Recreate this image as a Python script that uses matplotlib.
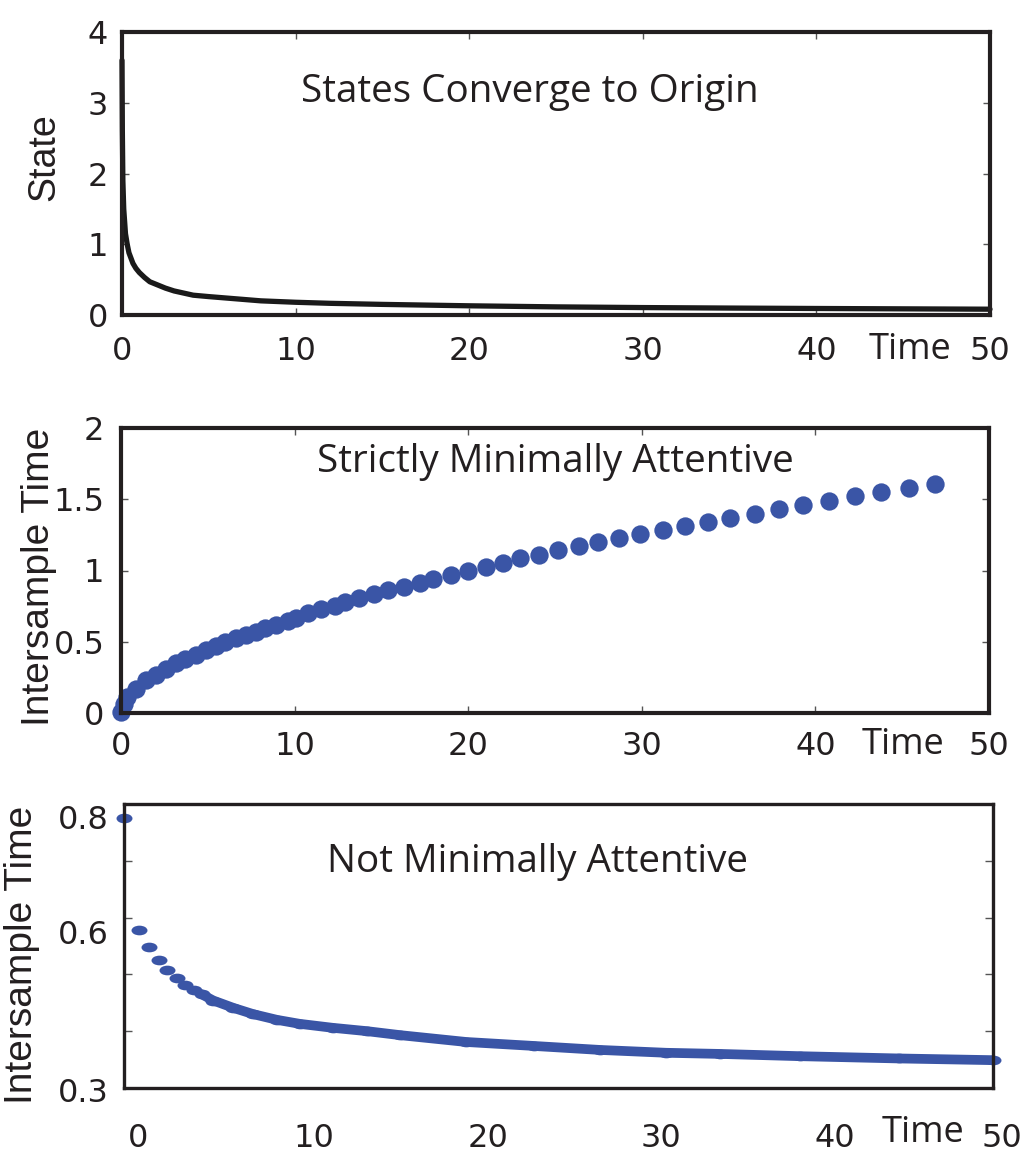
import numpy as np
import matplotlib
matplotlib.use("Agg")
import matplotlib.pyplot as plt
from matplotlib.path import Path
import matplotlib.transforms as mtransforms

# --- data ---
# top panel: state trajectory
t_state = [0.0, 0.02, 0.05, 0.1, 0.2, 0.3, 0.4, 0.63, 0.8, 1.0, 1.3, 1.6, 2.0, 2.5, 3.0,
           4.1, 5.0, 6.0, 7.0, 8.0, 10.0, 12.0, 15.0, 20.0, 25.0, 30.0, 35.0, 40.0,
           45.0, 50.0]
x_state = [3.6, 2.6, 1.9, 1.5, 1.15, 1.0, 0.88, 0.73, 0.66, 0.6, 0.53, 0.47, 0.43, 0.38,
           0.34, 0.28, 0.26, 0.24, 0.22, 0.2, 0.18, 0.165, 0.15, 0.13, 0.115, 0.105,
           0.098, 0.092, 0.087, 0.082]

# middle panel: strictly minimally attentive sampling
t_strict = [0.0, 0.15, 0.37, 0.85, 1.42, 2.0, 2.57, 3.15, 3.7, 4.3, 4.9, 5.45, 6.0, 6.6,
            7.2, 7.76, 8.3, 8.9, 9.6, 10.1, 10.8, 11.5, 12.3, 12.9, 13.7, 14.6, 15.4,
            16.3, 17.2, 18.0, 19.0, 20.0, 21.0, 22.0, 23.0, 24.1, 25.2, 26.4, 27.5,
            28.7, 29.9, 31.2, 32.5, 33.8, 35.1, 36.5, 37.9, 39.3, 40.8, 42.3, 43.8,
            45.4, 46.9]
tau_strict = [0.01, 0.06, 0.11, 0.17, 0.23, 0.27, 0.31, 0.35, 0.38, 0.41, 0.44, 0.47,
              0.50, 0.524, 0.547, 0.57, 0.594, 0.62, 0.645, 0.67, 0.70, 0.73, 0.753,
              0.78, 0.81, 0.835, 0.86, 0.886, 0.915, 0.94, 0.968, 1.00, 1.027, 1.055,
              1.085, 1.109, 1.144, 1.172, 1.198, 1.226, 1.254, 1.284, 1.312, 1.342,
              1.366, 1.40, 1.43, 1.46, 1.49, 1.52, 1.55, 1.58, 1.607]

# bottom panel: not minimally attentive sampling
t_not = [0.0, 0.86, 1.46, 2.0, 2.5, 3.03, 3.5, 4.0, 4.47, 5.14, 6.3, 7.44, 8.8, 10.1,
         12.0, 14.0, 15.9, 19.7, 23.6, 27.4, 31.2, 34.3, 38.9, 44.6, 50.0]
tau_not = [0.775, 0.579, 0.548, 0.525, 0.507, 0.494, 0.482, 0.473, 0.465, 0.454, 0.441,
           0.43, 0.42, 0.413, 0.406, 0.40, 0.393, 0.381, 0.374, 0.367, 0.362, 0.360,
           0.356, 0.352, 0.349]

xticks = [0, 10, 20, 30, 40, 50]
titles = ["States Converge to Origin", "Strictly Minimally Attentive",
          "Not Minimally Attentive"]

ink = "#231f20"
blue = "#3a55a6"
plt.rcParams["font.family"] = "DejaVu Sans"
label_font = "Liberation Sans"
text_font = "Open Sans"

W, H = 1023, 1155
fig = plt.figure(figsize=(W / 100, H / 100), dpi=100)


def px_axes(left, top, right, bottom):
    return fig.add_axes([left / W, 1 - bottom / H, (right - left) / W, (bottom - top) / H])


def style(ax, lw, ypad, xpad):
    for s in ax.spines.values():
        s.set_linewidth(lw)
        s.set_color(ink)
    ax.tick_params(direction="in", length=5, width=1, color="#555555",
                   top=True, right=True, labelsize=23, labelcolor=ink)
    ax.tick_params(axis="y", pad=ypad)
    ax.tick_params(axis="x", pad=xpad)


def annotate(ax, title, tx, ty, time_x, time_y):
    ax.text(tx, ty, title, transform=ax.transAxes, ha="center", va="center",
            fontsize=27.8, family=text_font, color=ink)
    ax.text(time_x, time_y, "Time", transform=ax.transAxes, ha="center", va="center",
            fontsize=26, family=text_font, color=ink)


# ---- panel 1 ----
ax1 = px_axes(122, 32, 990, 315)
ax1.plot(t_state, x_state, color="#1a1a1a", lw=3.8, solid_capstyle="round", clip_on=False)
ax1.set_xlim(0, 50)
ax1.set_ylim(0, 4)
ax1.set_xticks(xticks)
ax1.set_yticks([0, 1, 2, 3, 4])
style(ax1, 3.0, 10, 15)
ax1.set_ylabel("State", fontsize=27, family=label_font, color=ink)
ax1.yaxis.set_label_coords(-0.069, 0.558)
annotate(ax1, titles[0], 0.47, 0.788, 0.908, -0.124)

# ---- panel 2 ----
ax2 = px_axes(121, 428, 989, 713)
ax2.plot(t_strict, tau_strict, "o", color=blue, ms=13.2, mec="none", clip_on=False)
ax2.set_xlim(0, 50)
ax2.set_ylim(0, 2)
ax2.set_xticks(xticks)
ax2.set_yticks([0, 0.5, 1, 1.5, 2])
ax2.set_yticklabels(["0", "0.5", "1", "1.5", "2"])
style(ax2, 3.0, 12, 13)
ax2.set_ylabel("Intersample Time", fontsize=28, family=label_font, color=ink)
ax2.yaxis.set_label_coords(-0.0737, 0.477)
annotate(ax2, titles[1], 0.501, 0.881, 0.901, -0.112)

# ---- panel 3 ----
ax3 = px_axes(124, 804, 993, 1088)
circ = Path.unit_circle()
ellipse = Path(circ.vertices * np.array([1.65, 1.0]), circ.codes)
dense = 8
ax3.plot(t_not[dense:], tau_not[dense:], "-", color=blue, lw=7.0,
         solid_capstyle="round", clip_on=False)
ax3.plot(t_not, tau_not, linestyle="none", marker=ellipse, color=blue, ms=11.5,
         mec="none", clip_on=False)
ax3.set_xlim(0, 50)
ax3.set_ylim(0.3, 0.8)
ax3.set_xticks(xticks)
ax3.set_yticks([0.3, 0.4, 0.5, 0.6, 0.7, 0.8])
ax3.set_yticklabels(["0.3", "", "", "0.6", "", "0.8"])
style(ax3, 2.4, 11, 25)
ax3.tick_params(axis="x", length=0, top=False)
ax3.tick_params(axis="y", length=6)
# the bottom panel's labels sit a little off the ticks in the original
for lab, dx in zip(ax3.get_xticklabels(), [14, 16, 16, 16, 16, 9]):
    lab.set_transform(lab.get_transform() +
                      mtransforms.ScaledTranslation(dx / 100, 0, fig.dpi_scale_trans))
for lab, dy in zip(ax3.get_yticklabels(), [-2, 0, 0, -14, 0, -13]):
    lab.set_transform(lab.get_transform() +
                      mtransforms.ScaledTranslation(0, dy / 100, fig.dpi_scale_trans))
ax3.set_ylabel("Intersample Time", fontsize=28, family=label_font, color=ink)
ax3.yaxis.set_label_coords(-0.0967, 0.468)
annotate(ax3, titles[2], 0.476, 0.796, 0.919, -0.158)

fig.savefig("out.png", dpi=100)
